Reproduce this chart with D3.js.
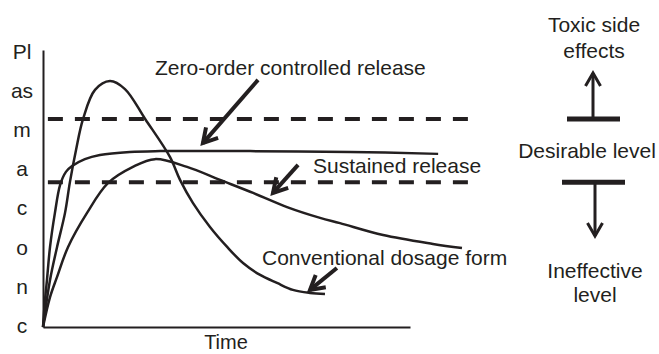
<!DOCTYPE html>
<html>
<head>
<meta charset="utf-8">
<script src="https://cdn.jsdelivr.net/npm/d3@7/dist/d3.min.js"></script>
<style>
  html, body { margin: 0; padding: 0; background: #fff; }
  svg { display: block; }
  text { font-family: "Liberation Sans", Arial, Helvetica, sans-serif; fill: #231f20; }
</style>
</head>
<body>
<svg id="chart" width="659" height="354"></svg>
<script>
// ---- data (time in h, concentration in arbitrary units) ----
const conventional = [
  [0,0],[0.23,1.70],[0.46,2.89],[0.72,4.12],[0.88,5.23],[1.08,6.39],[1.31,7.51],
  [1.70,8.56],[2.19,8.88],[2.68,8.59],[3.34,7.51],[4.15,6.14],[4.48,5.31],[4.90,4.48],
  [5.46,3.61],[6.02,2.89],[6.54,2.31],[7.10,1.88],[7.65,1.59],[8.17,1.34],[8.73,1.23],[9.22,1.19]
];
const zeroOrder = [
  [0,0],[0.065,0.97],[0.13,1.70],[0.23,2.89],[0.39,4.12],[0.56,5.13],[0.75,5.60],
  [0.95,5.81],[1.37,6.06],[1.86,6.21],[2.84,6.32],[3.83,6.35],[6.77,6.35],[10.04,6.32],[12.92,6.25]
];
const sustained = [
  [0,0],[0.23,1.08],[0.46,1.81],[0.82,2.89],[1.44,4.12],[2.13,5.20],[2.94,5.78],
  [3.66,6.06],[4.71,5.78],[5.79,5.31],[6.87,4.84],[7.98,4.33],[9.06,3.94],[9.71,3.75],
  [11.12,3.32],[12.75,3.00],[13.70,2.85]
];
const toxicLevel = 7.51;
const effectiveLevel = 5.23;
const levelSpan = [0.16, 14.03];
// annotation arrows: [from, to] in data units
const annotationArrows = [
  [[7.03, 8.92], [5.23, 6.64]],
  [[8.34, 5.85], [7.52, 4.84]],
  [[9.61, 2.13], [8.73, 1.34]]
];
const annotationLabels = ["Zero-order controlled release", "Sustained release", "Conventional dosage form"];
const yLabelParts = ["Pl","as","m","a","c","o","n","c"];
const xLabel = "Time";
const upperLegend = ["Toxic side", "effects"];
const middleLegend = "Desirable level";
const lowerLegend = ["Ineffective", "level"];

// ---- drawing ----
const ink = "#231f20";
const svg = d3.select("#chart");
svg.append("rect").attr("width", 659).attr("height", 354).attr("fill", "#fff");

const x = d3.scaleLinear().domain([0, 12]).range([43, 410]);
const y = d3.scaleLinear().domain([0, 10]).range([327, 50]);

// axes (no ticks)
const gx = svg.append("g").attr("transform", `translate(0,${y(0)})`)
  .call(d3.axisBottom(x).tickValues([]).tickSizeOuter(0));
const gy = svg.append("g").attr("transform", `translate(${x(0)},0)`)
  .call(d3.axisLeft(y).tickValues([]).tickSizeOuter(0));
[gx, gy].forEach(g => g.select(".domain").attr("stroke", ink).attr("stroke-width", 2));

// dashed levels
const line = d3.line().x(d => x(d[0])).y(d => y(d[1]));
[toxicLevel, effectiveLevel].forEach(lv => {
  svg.append("path")
    .attr("d", line([[levelSpan[0], lv], [levelSpan[1], lv]]))
    .attr("stroke", ink).attr("stroke-width", 4)
    .attr("stroke-dasharray", "15,12").attr("fill", "none");
});

// curves
const curve = d3.line().x(d => x(d[0])).y(d => y(d[1])).curve(d3.curveCatmullRom.alpha(0.5));
[conventional, zeroOrder, sustained].forEach(s => {
  svg.append("path").attr("d", curve(s))
    .attr("fill", "none").attr("stroke", ink).attr("stroke-width", 2.5);
});

// arrow helper (pixel coordinates)
function arrow(x1, y1, x2, y2, w, head) {
  const g = svg.append("g").attr("stroke", ink).attr("stroke-width", w)
    .attr("fill", "none").attr("stroke-linecap", "butt");
  g.append("line").attr("x1", x1).attr("y1", y1).attr("x2", x2).attr("y2", y2);
  const ang = Math.atan2(y1 - y2, x1 - x2);
  const a = Math.PI / 6;
  const p1 = [x2 + head * Math.cos(ang + a), y2 + head * Math.sin(ang + a)];
  const p2 = [x2 + head * Math.cos(ang - a), y2 + head * Math.sin(ang - a)];
  g.append("path").attr("d", `M${p1[0]},${p1[1]}L${x2},${y2}L${p2[0]},${p2[1]}`)
    .attr("stroke-linejoin", "miter");
}

annotationArrows.forEach(([f, t]) => arrow(x(f[0]), y(f[1]), x(t[0]), y(t[1]), 4, 16));

// annotation labels
const labelPos = [[155, 75], [313, 173], [262, 265]];
annotationLabels.forEach((t, i) => {
  svg.append("text").attr("x", labelPos[i][0]).attr("y", labelPos[i][1])
    .attr("font-size", 21).text(t);
});

// y-axis label, one chunk per line
yLabelParts.forEach((t, i) => {
  svg.append("text").attr("x", 22).attr("y", 59 + i * 39.1)
    .attr("text-anchor", "middle").attr("font-size", 21).text(t);
});
svg.append("text").attr("x", 226).attr("y", 349).attr("text-anchor", "middle")
  .attr("font-size", 20).text(xLabel);

// right-hand legend
upperLegend.forEach((t, i) => {
  svg.append("text").attr("x", 594).attr("y", 32 + i * 26)
    .attr("text-anchor", "middle").attr("font-size", 21).text(t);
});
svg.append("text").attr("x", 587).attr("y", 158).attr("text-anchor", "middle")
  .attr("font-size", 21).text(middleLegend);
lowerLegend.forEach((t, i) => {
  svg.append("text").attr("x", 595).attr("y", 278 + i * 23.5)
    .attr("text-anchor", "middle").attr("font-size", 21).text(t);
});

// T bars aligned to levels
svg.append("line").attr("x1", 567).attr("x2", 620).attr("y1", y(toxicLevel)).attr("y2", y(toxicLevel))
  .attr("stroke", ink).attr("stroke-width", 5);
arrow(593, y(toxicLevel), 593, 73, 3, 15);
svg.append("line").attr("x1", 562).attr("x2", 625).attr("y1", y(effectiveLevel)).attr("y2", y(effectiveLevel))
  .attr("stroke", ink).attr("stroke-width", 5);
arrow(595, y(effectiveLevel), 595, 236, 3, 15);
</script>
</body>
</html>
